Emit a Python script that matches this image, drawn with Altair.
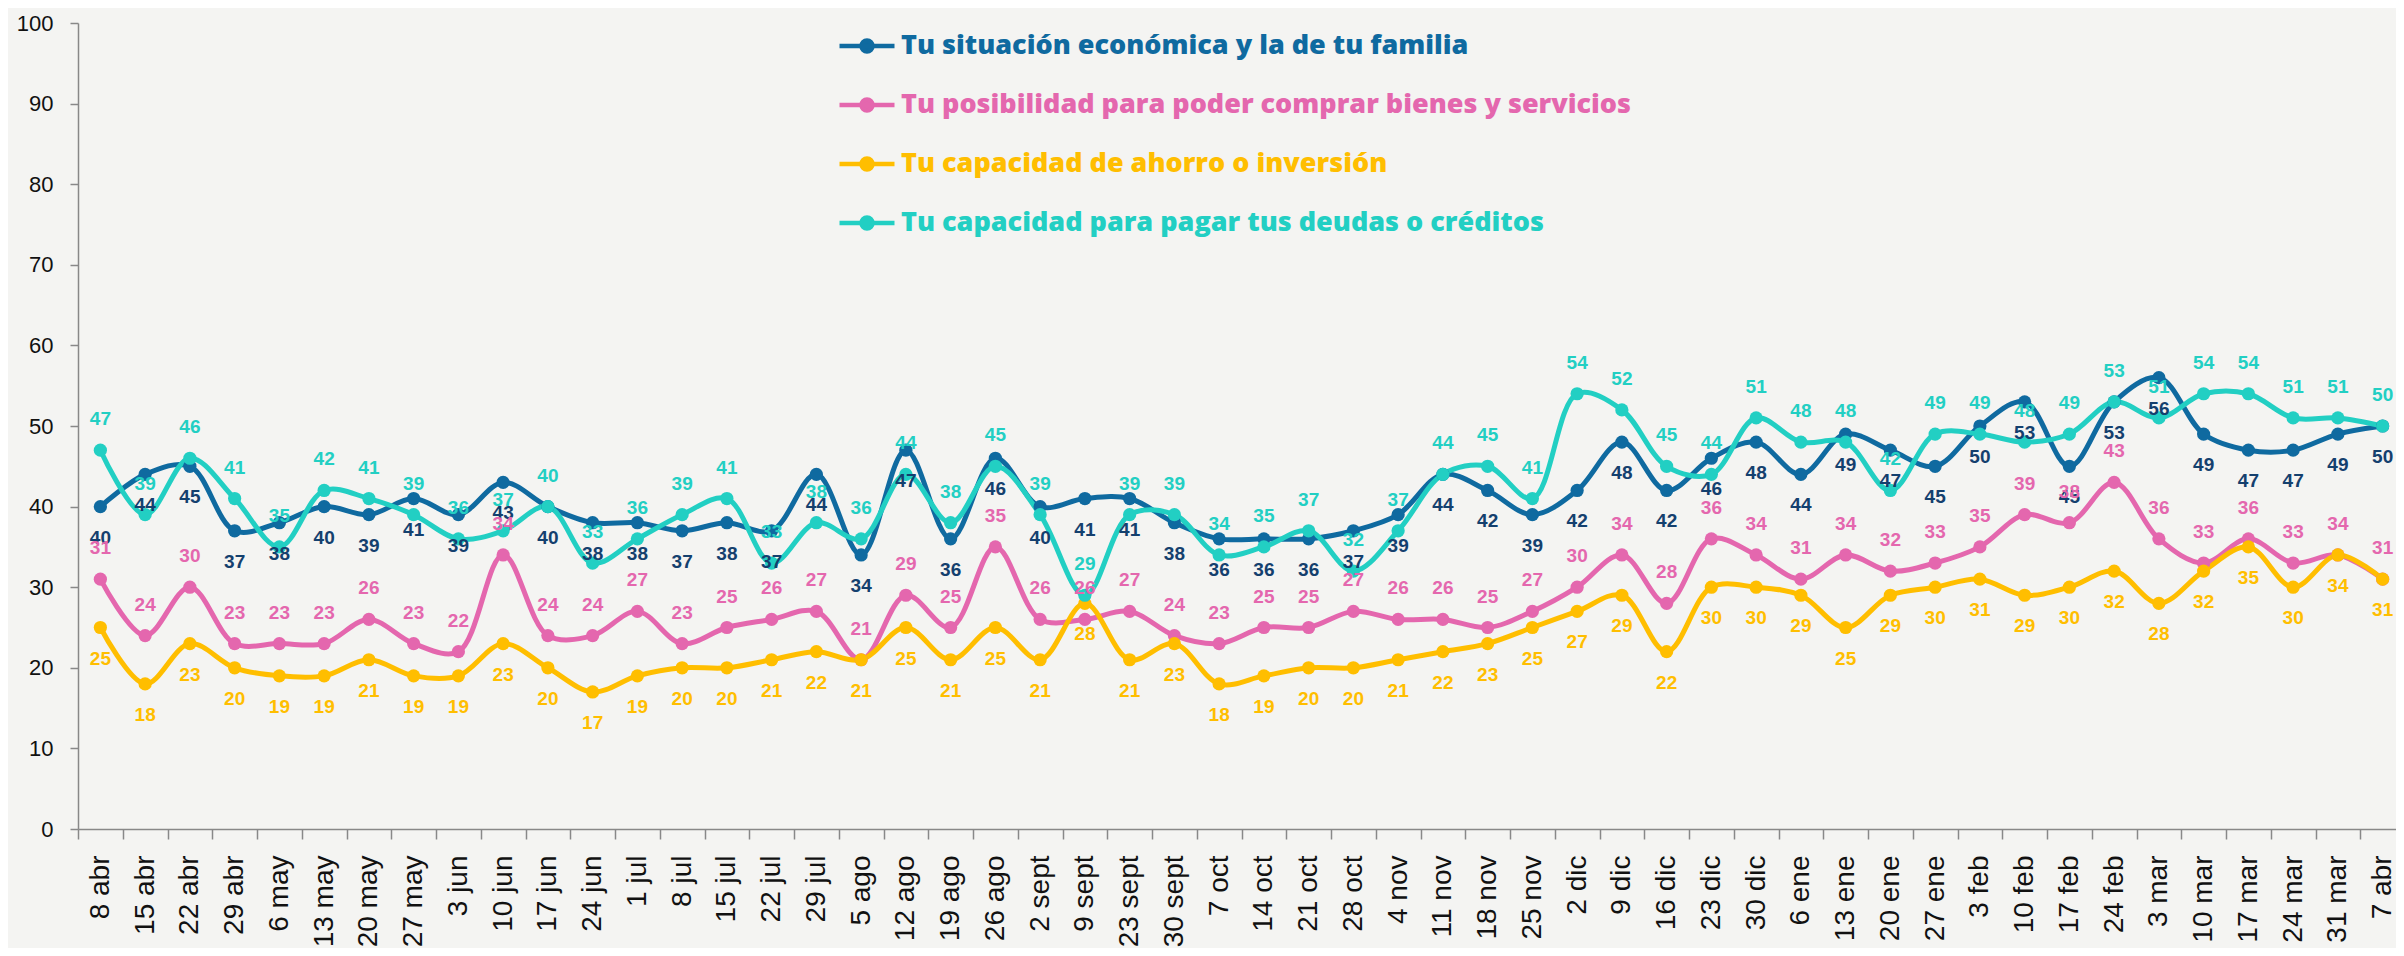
import altair as alt
import pandas as pd

fechas = ["8 abr", "15 abr", "22 abr", "29 abr", "6 may", "13 may", "20 may", "27 may",
          "3 jun", "10 jun", "17 jun", "24 jun", "1 jul", "8 jul", "15 jul", "22 jul",
          "29 jul", "5 ago", "12 ago", "19 ago", "26 ago", "2 sept", "9 sept", "23 sept",
          "30 sept", "7 oct", "14 oct", "21 oct", "28 oct", "4 nov", "11 nov", "18 nov",
          "25 nov", "2 dic", "9 dic", "16 dic", "23 dic", "30 dic", "6 ene", "13 ene",
          "20 ene", "27 ene", "3 feb", "10 feb", "17 feb", "24 feb", "3 mar", "10 mar",
          "17 mar", "24 mar", "31 mar", "7 abr"]

series_names = ["Tu situación económica y la de tu familia",
                "Tu posibilidad para poder comprar bienes y servicios",
                "Tu capacidad de ahorro o inversión",
                "Tu capacidad para pagar tus deudas o créditos"]

situacion = [40, 44, 45, 37, 38, 40, 39, 41, 39, 43, 40, 38, 38, 37, 38, 37, 44, 34, 47, 36,
             46, 40, 41, 41, 38, 36, 36, 36, 37, 39, 44, 42, 39, 42, 48, 42, 46, 48, 44, 49,
             47, 45, 50, 53, 45, 53, 56, 49, 47, 47, 49, 50]
posibilidad = [31, 24, 30, 23, 23, 23, 26, 23, 22, 34, 24, 24, 27, 23, 25, 26, 27, 21, 29, 25,
               35, 26, 26, 27, 24, 23, 25, 25, 27, 26, 26, 25, 27, 30, 34, 28, 36, 34, 31, 34,
               32, 33, 35, 39, 38, 43, 36, 33, 36, 33, 34, 31]
ahorro = [25, 18, 23, 20, 19, 19, 21, 19, 19, 23, 20, 17, 19, 20, 20, 21, 22, 21, 25, 21,
          25, 21, 28, 21, 23, 18, 19, 20, 20, 21, 22, 23, 25, 27, 29, 22, 30, 30, 29, 25,
          29, 30, 31, 29, 30, 32, 28, 32, 35, 30, 34, 31]
deudas = [47, 39, 46, 41, 35, 42, 41, 39, 36, 37, 40, 33, 36, 39, 41, 33, 38, 36, 44, 38,
          45, 39, 29, 39, 39, 34, 35, 37, 32, 37, 44, 45, 41, 54, 52, 45, 44, 51, 48, 48,
          42, 49, 49, 48, 49, 53, 51, 54, 54, 51, 51, 50]

line_colors = ["#0f6aa0", "#e467ae", "#ffbe00", "#22cfc3"]
label_colors = ["#14406e", "#e467ae", "#ffbe00", "#22cfc3"]

rows = []
for name, vals in zip(series_names, [situacion, posibilidad, ahorro, deudas]):
    for f, v in zip(fechas, vals):
        rows.append({"fecha": f, "serie": name, "valor": v})
df = pd.DataFrame(rows)

x_enc = alt.X(
    "fecha:N", sort=fechas,
    scale=alt.Scale(type="band", paddingInner=0, paddingOuter=0),
    axis=alt.Axis(title=None, labelAngle=270, labelFont="Liberation Sans", labelFontSize=28,
                  labelColor="#111111", tickBand="extent", tickSize=10, tickColor="#888888",
                  domainColor="#888888", tickWidth=1.5, domainWidth=1.5,
                  labelPadding=16, grid=False, labelOverlap=False),
)
y_enc = alt.Y(
    "valor:Q",
    scale=alt.Scale(domain=[0, 100], nice=False),
    axis=alt.Axis(title=None, values=list(range(0, 101, 10)), labelFont="Liberation Sans",
                  labelFontSize=22, labelColor="#111111", tickSize=8, tickColor="#888888",
                  domainColor="#888888", tickWidth=1.5, domainWidth=1.5,
                  labelPadding=17, grid=False),
)

col_expr = {"expr": "scale('color', datum.value)"}
legend = alt.Legend(
    title=None, orient="none", legendX=759, legendY=-7, direction="vertical",
    symbolType="M-1,0L1,0M-0.2,0A0.2,0.2,0,1,1,0.2,0A0.2,0.2,0,1,1,-0.2,0Z",
    symbolSize=3025, symbolStrokeWidth=4.5,
    symbolFillColor=col_expr, symbolStrokeColor=col_expr, labelColor=col_expr,
    labelFont="Open Sans", labelFontSize=27, labelFontWeight=800, labelLimit=2000,
    labelOffset=4, rowPadding=14, padding=0,
)

color_enc = alt.Color("serie:N", sort=series_names,
                      scale=alt.Scale(domain=series_names, range=line_colors),
                      legend=legend)

base = alt.Chart(df).encode(x=x_enc, y=y_enc, color=color_enc)
lines = base.mark_line(interpolate="catmull-rom", strokeWidth=5)
points = base.mark_point(filled=True, size=175, opacity=1)

fill_enc = alt.Fill("serie:N", scale=alt.Scale(domain=series_names, range=label_colors), legend=None)
tbase = alt.Chart(df).encode(x=x_enc, y=y_enc, text="valor:Q", fill=fill_enc)
text_above = tbase.transform_filter(
    alt.FieldOneOfPredicate(field="serie", oneOf=[series_names[1], series_names[3]])
).mark_text(dy=-31, fontSize=19, fontWeight="bold", font="Liberation Sans", baseline="middle")
text_below = tbase.transform_filter(
    alt.FieldOneOfPredicate(field="serie", oneOf=[series_names[0], series_names[2]])
).mark_text(dy=31, fontSize=19, fontWeight="bold", font="Liberation Sans", baseline="middle")

chart = alt.layer(lines, points, text_below, text_above).properties(
    width=2327, height=806,
    autosize=alt.AutoSizeParams(type="none"),
    padding={"left": 70, "top": 15, "right": -9, "bottom": 119},
    background="#f4f4f2",
).configure_view(stroke=None)

chart.save("out.html", embed_options={"renderer": "svg", "actions": False})
